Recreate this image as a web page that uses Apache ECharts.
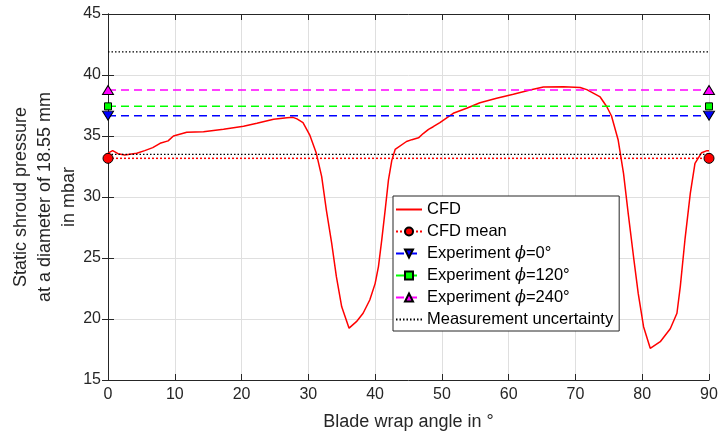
<!DOCTYPE html>
<html>
<head>
<meta charset="utf-8">
<script src="https://cdn.jsdelivr.net/npm/echarts@6/dist/echarts.min.js"></script>
<style>
  html, body { margin: 0; padding: 0; background: #fff; }
  #chart { width: 719px; height: 432px; }
</style>
</head>
<body>
<div id="chart"></div>
<script>
// Blade wrap angle (deg) and static shroud pressure (mbar) from the CFD run
const cfdAngle = [0, 0.7, 1.5, 2.5, 4.3, 5.5, 6.7, 7.8, 9.0, 9.8, 11.8, 14.3, 17.3, 20.3, 22.3, 24.8, 26.8, 27.7, 28.3, 29.2, 30.2, 31.2, 32.0, 32.7, 33.5, 34.2, 35.0, 36.1, 37.2, 38.2, 39.2, 40.0, 40.5, 41.0, 41.5, 42.0, 42.5, 43.0, 44.7, 45.5, 46.5, 47.2, 48.0, 48.7, 49.7, 51.7, 53.7, 55.7, 58.2, 60.7, 63.2, 65.2, 68.2, 70.7, 71.7, 73.7, 74.7, 75.4, 76.4, 77.2, 77.9, 78.7, 79.4, 80.2, 81.2, 82.7, 84.2, 85.2, 85.7, 86.4, 87.2, 87.9, 88.9, 89.7, 90];
const cfdPressure = [33.6, 33.8, 33.55, 33.45, 33.58, 33.8, 34.05, 34.4, 34.6, 35.0, 35.3, 35.35, 35.55, 35.8, 36.04, 36.37, 36.5, 36.53, 36.4, 36.1, 35.1, 33.58, 31.67, 28.93, 26.2, 23.47, 21.0, 19.25, 19.78, 20.47, 21.56, 22.9, 24.3, 26.5, 28.9, 31.4, 33.0, 33.9, 34.55, 34.7, 34.85, 35.2, 35.55, 35.76, 36.1, 36.86, 37.27, 37.73, 38.09, 38.42, 38.77, 39.02, 39.04, 38.98, 38.8, 38.2, 37.4, 36.64, 34.67, 31.94, 28.66, 25.1, 22.1, 19.37, 17.6, 18.14, 19.2, 20.47, 22.65, 26.5, 30.3, 32.76, 33.63, 33.8, 33.8];

// Reference levels (mbar)
const cfdMean = 33.17;
const expPhi0 = 36.67;
const expPhi120 = 37.43;
const expPhi240 = 38.77;
const uncertaintyUpper = 41.9;
const uncertaintyLower = 33.5;

// Axis ranges and ticks
const angleRange = [0, 90];
const angleStep = 10;
const pressureRange = [15, 45];
const pressureStep = 5;

const seriesNames = ['CFD', 'CFD mean', 'Experiment ϕ=0°', 'Experiment ϕ=120°', 'Experiment ϕ=240°', 'Measurement uncertainty'];

const txt = '#262626';
const fontFam = '"Liberation Sans", Arial, Helvetica, sans-serif';
const clear = 'rgba(0,0,0,0)';

const levelLine = v => [[angleRange[0], v], [angleRange[1], v]];

const chart = echarts.init(document.getElementById('chart'), null, { renderer: 'canvas' });

const axisCommon = {
  axisLine: { show: true, lineStyle: { color: txt, width: 1 } },
  axisTick: { show: true, inside: true, length: 6, lineStyle: { color: txt } },
};

chart.setOption({
  animation: false,
  backgroundColor: '#fff',
  textStyle: { fontFamily: fontFam, color: txt },
  grid: { left: 108, right: 10, top: 14, bottom: 52, containLabel: false, outerBoundsMode: 'none' },
  xAxis: [
    Object.assign({
      type: 'value', min: angleRange[0], max: angleRange[1], interval: angleStep,
      position: 'bottom',
      name: 'Blade wrap angle in °', nameLocation: 'middle', nameGap: 33, nameMoveOverlap: false,
      nameTextStyle: { fontSize: 18, color: txt, fontFamily: fontFam },
      axisLabel: { fontSize: 16, color: txt, margin: 7, fontFamily: fontFam },
      splitLine: { show: true, lineStyle: { color: '#dfdfdf', width: 1 } },
    }, axisCommon),
    Object.assign({
      type: 'value', min: angleRange[0], max: angleRange[1], interval: angleStep,
      position: 'top', axisLabel: { show: false }, splitLine: { show: false },
    }, axisCommon),
  ],
  yAxis: [
    Object.assign({
      type: 'value', min: pressureRange[0], max: pressureRange[1], interval: pressureStep,
      position: 'left',
      name: 'Static shroud pressure\nat a diameter of 18.55 mm\nin mbar',
      nameLocation: 'middle', nameRotate: 90, nameGap: 27, nameMoveOverlap: false,
      nameTextStyle: { fontSize: 18, lineHeight: 24, color: txt, fontFamily: fontFam, align: 'center' },
      axisLabel: { fontSize: 16, color: txt, margin: 7, fontFamily: fontFam },
      splitLine: { show: true, lineStyle: { color: '#dfdfdf', width: 1 } },
    }, axisCommon),
    Object.assign({
      type: 'value', min: pressureRange[0], max: pressureRange[1], interval: pressureStep,
      position: 'right', axisLabel: { show: false }, splitLine: { show: false },
    }, axisCommon),
  ],
  legend: {
    orient: 'vertical',
    left: 393, top: 196,
    data: seriesNames,
    backgroundColor: '#fff',
    borderColor: txt, borderWidth: 1,
    padding: [5, 6, 3, 2],
    itemWidth: 26, itemHeight: 10, itemGap: 5,
    textStyle: {
      fontSize: 16.5, lineHeight: 16.7, color: '#000', fontFamily: fontFam,
      rich: { i: { fontStyle: 'italic', fontFamily: '"DejaVu Serif", serif', fontSize: 16, color: '#000' } }
    },
    formatter: name => name.replace('ϕ', '{i|ϕ}'),
  },
  series: [
    {
      name: seriesNames[0], type: 'line', showSymbol: false, symbol: 'circle',
      data: cfdAngle.map((a, i) => [a, cfdPressure[i]]),
      lineStyle: { color: '#ff0000', width: 1.5 }, itemStyle: { color: clear, borderColor: clear },
    },
    {
      name: seriesNames[1], type: 'line', data: levelLine(cfdMean),
      symbol: 'circle', symbolSize: 10,
      lineStyle: { color: '#ff0000', width: 1.5, type: [2, 2] },
      itemStyle: { color: '#ff0000', borderColor: '#000', borderWidth: 1 },
    },
    {
      name: seriesNames[2], type: 'line', data: levelLine(expPhi0),
      symbol: 'triangle', symbolRotate: 180, symbolSize: [11, 9],
      lineStyle: { color: '#0000ff', width: 1.5, type: [8, 5] },
      itemStyle: { color: '#0000ff', borderColor: '#000', borderWidth: 1 },
    },
    {
      name: seriesNames[3], type: 'line', data: levelLine(expPhi120),
      symbol: 'rect', symbolSize: 7,
      lineStyle: { color: '#00ff00', width: 1.5, type: [8, 5] },
      itemStyle: { color: '#00ff00', borderColor: '#000', borderWidth: 1 },
    },
    {
      name: seriesNames[4], type: 'line', data: levelLine(expPhi240),
      symbol: 'triangle', symbolSize: [11, 9],
      lineStyle: { color: '#ff00ff', width: 1.5, type: [8, 5] },
      itemStyle: { color: '#ff00ff', borderColor: '#000', borderWidth: 1 },
    },
    {
      name: seriesNames[5], type: 'line', data: levelLine(uncertaintyUpper),
      symbol: 'circle', showSymbol: false,
      lineStyle: { color: '#000', width: 1.3, type: [1.5, 2] }, itemStyle: { color: clear, borderColor: clear },
    },
    {
      name: seriesNames[5], type: 'line', data: levelLine(uncertaintyLower),
      symbol: 'circle', showSymbol: false,
      lineStyle: { color: '#000', width: 1.3, type: [1.5, 2] }, itemStyle: { color: clear, borderColor: clear },
    },
  ],
});
</script>
</body>
</html>
